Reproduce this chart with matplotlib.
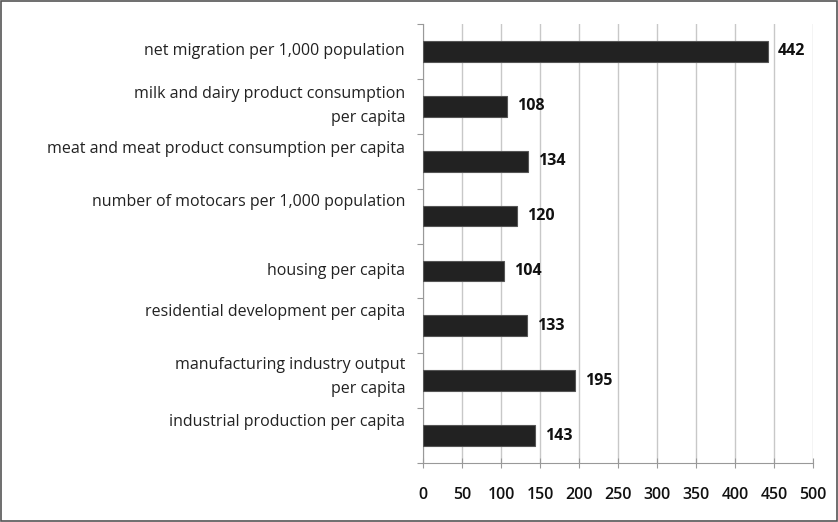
import matplotlib
matplotlib.use("Agg")
from matplotlib import pyplot as plt

categories = [
    "net migration per 1,000 population",
    "milk and dairy product consumption\nper capita",
    "meat and meat product consumption per capita",
    "number of motocars per 1,000 population",
    "housing per capita",
    "residential development per capita",
    "manufacturing industry output\nper capita",
    "industrial production per capita",
]
values = [442, 108, 134, 120, 104, 133, 195, 143]
xticks = [0, 50, 100, 150, 200, 250, 300, 350, 400, 450, 500]

# labels in the original sit a little above their bars (in category units)
label_shift = [0.0, 0.0, 0.23, 0.25, 0.0, 0.26, 0.06, 0.25]

plt.rcParams['font.family'] = ['Open Sans', 'DejaVu Sans']

fig = plt.figure(figsize=(8.38, 5.22), dpi=100)
ax = fig.add_axes([423 / 838, 1 - 463 / 522, 390 / 838, 439 / 522])

n = len(categories)
ypos = list(range(n))
ax.barh(ypos, values, height=0.38, color='#222222', edgecolor='#555555',
        linewidth=0.8, zorder=3)

for y, v in zip(ypos, values):
    ax.text(v + 13, y, str(v), va='center', ha='left', fontsize=11.5,
            fontweight='bold', color='#111111')

for y, lab, s in zip(ypos, categories, label_shift):
    ax.text(-23, y - s, lab, ha='right', va='center', fontsize=11.5,
            color='#222222', linespacing=1.65)

ax.set_ylim(n - 0.5, -0.5)
ax.set_xlim(0, 500)
ax.set_xticks(xticks)
ax.set_xticklabels([str(t) for t in xticks], fontsize=11.5, color='#111111',
                   fontweight='semibold')
ax.set_yticks([i - 0.5 for i in range(n + 1)])
ax.set_yticklabels([])

ax.grid(axis='x', color='#c8c8c8', linewidth=1, zorder=0)
for side in ['top', 'right']:
    ax.spines[side].set_visible(False)
ax.spines['left'].set_color('#999999')
ax.spines['bottom'].set_color('#999999')
ax.tick_params(axis='x', direction='inout', length=7, color='#999999', pad=14)
ax.tick_params(axis='y', direction='out', length=4, color='#999999')

fig.patches.append(plt.Rectangle((0.001, 0.001), 0.998, 0.997, transform=fig.transFigure,
                                 fill=False, edgecolor='#555555', linewidth=1.2))

fig.savefig("out.png", dpi=100)
